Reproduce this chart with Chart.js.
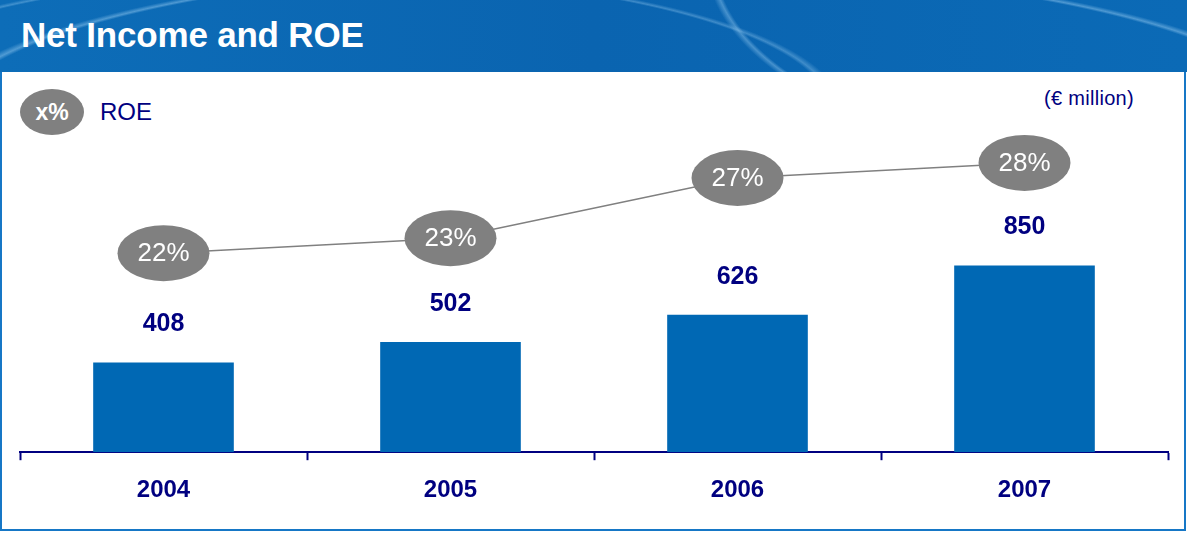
<!DOCTYPE html>
<html lang="en">
<head>
    <meta charset="UTF-8">
    <title>Net Income and ROE</title>
    <style>
        body {
            margin: 0;
            width: 1187px;
            height: 533px;
            overflow: hidden;
            font-family: Arial, "Liberation Sans", sans-serif;
            background: #ffffff;
            position: relative;
        }
        .header {
            position: absolute;
            left: 0; top: 0;
            width: 1187px; height: 72px;
            background:
                radial-gradient(ellipse 700px 160px at 620px 120px, transparent 96%, rgba(160,210,245,0.45) 97%, transparent 98.5%),
                radial-gradient(ellipse 520px 140px at 330px 110px, transparent 96%, rgba(160,210,245,0.35) 97%, transparent 98.5%),
                radial-gradient(ellipse 400px 200px at 1100px -40px, transparent 96%, rgba(160,210,245,0.4) 97%, transparent 98.5%),
                linear-gradient(90deg, #0d6db8 0%, #0a64b0 50%, #0b6ab6 100%);
        }
        .header h1 {
            margin: 0;
            position: absolute;
            left: 21px; top: 15px;
            color: #ffffff;
            font-size: 35px;
            font-weight: bold;
            letter-spacing: -0.2px;
        }
        .panel {
            position: absolute;
            left: 0; top: 72px;
            width: 1182px; height: 457px;
            border-left: 2px solid #1677c6;
            border-right: 2px solid #1677c6;
            border-bottom: 2px solid #1677c6;
        }
        .legend {
            position: absolute;
            left: 20px; top: 89px;
            display: flex;
            align-items: center;
        }
        .legend .pill {
            width: 64px; height: 46px;
            border-radius: 50%;
            background: #808080;
            color: #fff;
            font-weight: bold;
            font-size: 23px;
            display: flex; align-items: center; justify-content: center;
        }
        .legend span {
            margin-left: 16px;
            color: #000080;
            font-size: 24px;
        }
        .unit {
            position: absolute;
            right: 53px; top: 87px;
            color: #000080;
            font-size: 20px;
            letter-spacing: 0.3px;
        }
        canvas {
            position: absolute;
            left: 0; top: 0;
        }
    </style>
    <script src="https://cdn.jsdelivr.net/npm/chart.js"></script>
</head>
<body>
    <div class="header"><h1>Net Income and ROE</h1></div>
    <div class="panel"></div>
    <div class="legend"><div class="pill">x%</div><span>ROE</span></div>
    <div class="unit">(€ million)</div>
    <canvas id="incomeChart" width="1187" height="533"></canvas>

    <script>
        const years = ['2004', '2005', '2006', '2007'];
        const netIncome = [408, 502, 626, 850];
        const roe = [22, 23, 27, 28];

        // ellipses with the ROE value, plus the income labels over the bars
        const labelPlugin = {
            id: 'labels',
            afterDatasetsDraw(chart) {
                const ctx = chart.ctx;
                ctx.save();
                ctx.textAlign = 'center';
                ctx.textBaseline = 'middle';

                chart.getDatasetMeta(0).data.forEach((bar, i) => {
                    ctx.fillStyle = '#000080';
                    ctx.font = 'bold 25px Arial';
                    ctx.fillText(netIncome[i], bar.x, bar.y - 38);
                });

                chart.getDatasetMeta(1).data.forEach((pt, i) => {
                    ctx.fillStyle = '#808080';
                    ctx.beginPath();
                    ctx.ellipse(pt.x, pt.y, 46, 28, 0, 0, Math.PI * 2);
                    ctx.fill();
                    ctx.fillStyle = '#ffffff';
                    ctx.font = '26px Arial';
                    ctx.fillText(roe[i] + '%', pt.x, pt.y + 1);
                });
                ctx.restore();
            }
        };

        const ctx = document.getElementById('incomeChart').getContext('2d');
        const incomeChart = new Chart(ctx, {
            type: 'bar',
            data: {
                labels: years,
                datasets: [
                    {
                        label: 'Net income',
                        data: netIncome,
                        backgroundColor: '#0068b4',
                        categoryPercentage: 1,
                        barPercentage: 0.49,
                        yAxisID: 'y',
                        order: 2
                    },
                    {
                        type: 'line',
                        label: 'ROE',
                        data: roe,
                        borderColor: '#808080',
                        borderWidth: 1.5,
                        pointRadius: 0,
                        yAxisID: 'y2',
                        order: 1
                    }
                ]
            },
            options: {
                responsive: false,
                animation: false,
                layout: {
                    padding: { left: 20, right: 19, top: 120, bottom: 12 }
                },
                plugins: {
                    legend: { display: false },
                    tooltip: { enabled: false }
                },
                scales: {
                    x: {
                        border: { display: true, color: '#000080', width: 2 },
                        grid: {
                            display: true,
                            drawOnChartArea: false,
                            drawTicks: true,
                            tickLength: 8,
                            tickWidth: 2,
                            color: '#000080',
                            offset: true
                        },
                        ticks: {
                            color: '#000080',
                            padding: 16,
                            font: { family: 'Arial', size: 24, weight: 'bold' }
                        }
                    },
                    y: {
                        display: false,
                        min: 0,
                        max: 1512
                    },
                    y2: {
                        display: false,
                        min: 8.78,
                        max: 30.85
                    }
                }
            },
            plugins: [labelPlugin]
        });
    </script>
</body>
</html>
